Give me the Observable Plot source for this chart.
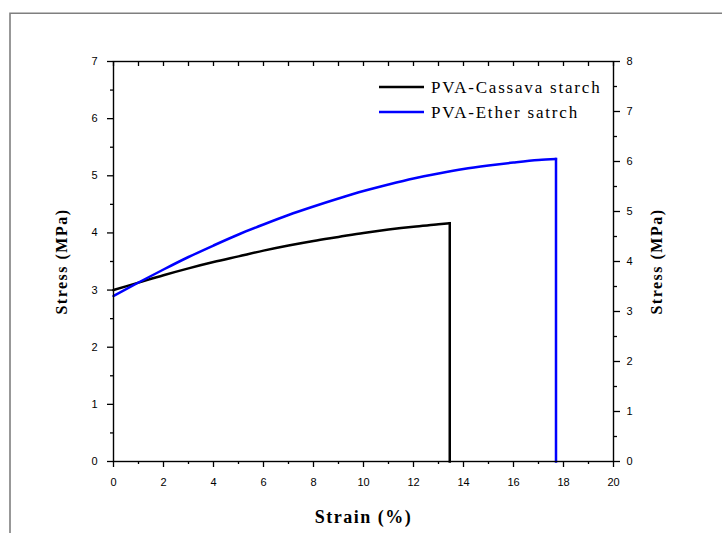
<!DOCTYPE html>
<html><head><meta charset="utf-8">
<script src="https://cdn.jsdelivr.net/npm/d3@7"></script>
<script src="https://cdn.jsdelivr.net/npm/@observablehq/plot@0.6"></script>
<style>html,body{margin:0;padding:0;background:#fff;}</style>
</head><body><div id="chart"></div>
<script>
// ---- data ----
const cassavaStrain = [0, 1, 2, 3, 4, 5, 6, 7, 8, 9, 10, 11, 12, 13, 13.45, 13.45];
const cassavaStress = [3.00, 3.13, 3.26, 3.38, 3.49, 3.59, 3.69, 3.78, 3.86, 3.93, 4.00, 4.06, 4.11, 4.15, 4.17, 0];
// ether series is read against the right-hand axis (0–8)
const etherStrain = [0, 1, 2, 3, 4, 5, 6, 7, 8, 9, 10, 11, 12, 13, 14, 15, 16, 17, 17.7, 17.7];
const etherStress = [3.31, 3.58, 3.84, 4.09, 4.32, 4.54, 4.74, 4.93, 5.10, 5.26, 5.41, 5.54, 5.66, 5.76, 5.85, 5.92, 5.98, 6.03, 6.05, 0];
const seriesNames = ["PVA-Cassava starch", "PVA-Ether satrch"];
const seriesColors = ["#000000", "#0000ff"];
const xDomain = [0, 20];
const leftDomain = [0, 7];
const rightDomain = [0, 8];
const xMajor = [0, 2, 4, 6, 8, 10, 12, 14, 16, 18, 20];
const xMinor = [1, 3, 5, 7, 9, 11, 13, 15, 17, 19];
const xTop = [0,1,2,3,4,5,6,7,8,9,10,11,12,13,14,15,16,17,18,19,20];
const leftMajor = [0, 1, 2, 3, 4, 5, 6, 7];
const leftMinor = [0.5, 1.5, 2.5, 3.5, 4.5, 5.5, 6.5];
const rightMajor = [0, 1, 2, 3, 4, 5, 6, 7, 8];
const rightMinor = [0.5, 1.5, 2.5, 3.5, 4.5, 5.5, 6.5, 7.5];
const xTitle = "Strain (%)";
const yTitle = "Stress (MPa)";

const k = leftDomain[1] / rightDomain[1]; // right-axis units -> left-axis units
const cassava = cassavaStrain.map((x, i) => ({x, y: cassavaStress[i]}));
const ether = etherStrain.map((x, i) => ({x, y: etherStress[i] * k}));
const blank = () => "";
const intFmt = d => String(Math.round(d));
const serif = "'Liberation Serif', 'Times New Roman', serif";

const chart = Plot.plot({
  width: 722, height: 533,
  marginLeft: 113, marginRight: 109, marginTop: 61, marginBottom: 72,
  style: {fontFamily: "'Liberation Sans', Arial, sans-serif", fontSize: "11px", color: "#000", background: "#fff", overflow: "visible"},
  x: {domain: xDomain, label: null},
  y: {domain: leftDomain, label: null},
  marks: [
    // smooth rising part, then the vertical break drop
    Plot.line(cassava.slice(0, -1), {x: "x", y: "y", stroke: seriesColors[0], strokeWidth: 2.5, curve: "monotone-x"}),
    Plot.line(cassava.slice(-2), {x: "x", y: "y", stroke: seriesColors[0], strokeWidth: 2.5, strokeLinecap: "square"}),
    Plot.line(ether.slice(0, -1), {x: "x", y: "y", stroke: seriesColors[1], strokeWidth: 2.5, curve: "monotone-x"}),
    Plot.line(ether.slice(-2), {x: "x", y: "y", stroke: seriesColors[1], strokeWidth: 2.5, strokeLinecap: "square"}),
    Plot.frame({stroke: "#000", strokeWidth: 1.4}),
    Plot.axisX(xMajor, {anchor: "bottom", tickSize: 6, tickPadding: 11, tickFormat: intFmt, strokeWidth: 1.3, label: null}),
    Plot.axisX(xMinor, {anchor: "bottom", tickSize: 3, tickFormat: blank, strokeWidth: 1.3, label: null}),
    Plot.axisX(xTop, {anchor: "top", tickSize: -4, tickFormat: blank, strokeWidth: 1.3, label: null}),
    Plot.axisY(leftMajor, {anchor: "left", tickSize: 6, tickPadding: 10, tickFormat: intFmt, strokeWidth: 1.3, label: null}),
    Plot.axisY(leftMinor, {anchor: "left", tickSize: 3, tickFormat: blank, strokeWidth: 1.3, label: null}),
    Plot.axisY(rightMajor.map(v => v * k), {anchor: "right", tickSize: 6, tickPadding: 7, tickFormat: v => String(Math.round(v / k)), strokeWidth: 1.3, label: null}),
    Plot.axisY(rightMinor.map(v => v * k), {anchor: "right", tickSize: 3, tickFormat: blank, strokeWidth: 1.3, label: null}),
    Plot.text([xTitle], {frameAnchor: "bottom", dy: 56, text: d => d, textAnchor: "middle", fontFamily: serif, fontWeight: "bold", fontSize: 18, lineAnchor: "middle"}),
    Plot.text([yTitle], {frameAnchor: "left", dx: -52, rotate: -90, text: d => d, textAnchor: "middle", fontFamily: serif, fontWeight: "bold", fontSize: 16, lineAnchor: "middle"}),
    Plot.text([yTitle], {frameAnchor: "right", dx: 43, rotate: -90, text: d => d, textAnchor: "middle", fontFamily: serif, fontWeight: "bold", fontSize: 16, lineAnchor: "middle"})
  ]
});

const svg = d3.select(chart);
svg.selectAll('g[aria-label="text"] text').style("letter-spacing", "1.5px");

// outer grey border (partially clipped like the reference)
svg.insert("path", ":first-child")
  .attr("d", "M10,533V13.3H722")
  .attr("fill", "none").attr("stroke", "#7f7f7f").attr("stroke-width", 1.6);

// legend
const lg = svg.append("g").attr("class", "legend").attr("text-anchor", "start");
seriesNames.forEach((name, i) => {
  const cy = 87 + i * 25;
  lg.append("line").attr("x1", 379).attr("x2", 424).attr("y1", cy).attr("y2", cy)
    .attr("stroke", seriesColors[i]).attr("stroke-width", 2.6);
  lg.append("text").attr("x", 431).attr("y", cy + 5.5).text(name)
    .attr("text-anchor", "start")
    .attr("font-family", serif)
    .attr("font-size", 17).style("letter-spacing", "1.8px").attr("fill", "#000");
});

document.getElementById("chart").appendChild(chart);
</script>
</body></html>
